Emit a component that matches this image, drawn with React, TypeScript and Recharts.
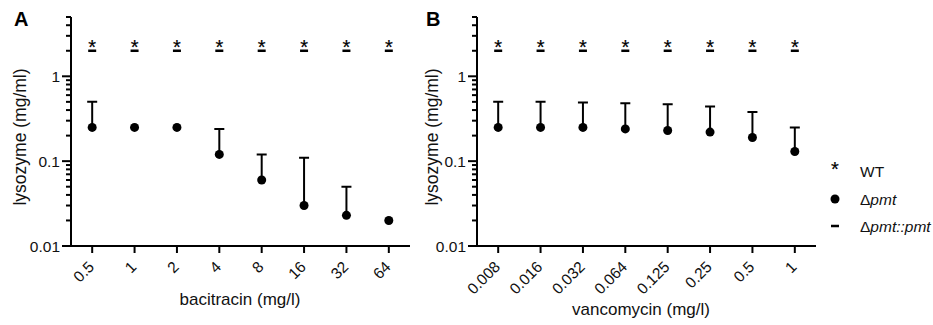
import { ScatterChart, Scatter, XAxis, YAxis, ErrorBar } from 'recharts';

const bacitracinDoses = ['0.5', '1', '2', '4', '8', '16', '32', '64'];
const bacitracinWT = [2, 2, 2, 2, 2, 2, 2, 2];
const bacitracinComp = [2, 2, 2, 2, 2, 2, 2, 2];
const bacitracinPmt = [0.25, 0.25, 0.25, 0.12, 0.06, 0.03, 0.023, 0.02];
const bacitracinPmtUpper = [0.5, null, null, 0.24, 0.12, 0.11, 0.05, null];

const vancomycinDoses = ['0.008', '0.016', '0.032', '0.064', '0.125', '0.25', '0.5', '1'];
const vancomycinWT = [2, 2, 2, 2, 2, 2, 2, 2];
const vancomycinComp = [2, 2, 2, 2, 2, 2, 2, 2];
const vancomycinPmt = [0.25, 0.25, 0.25, 0.24, 0.23, 0.22, 0.19, 0.13];
const vancomycinPmtUpper = [0.5, 0.5, 0.49, 0.48, 0.47, 0.44, 0.38, 0.25];

const yTicks = [
  0.01, 0.02, 0.03, 0.04, 0.05, 0.06, 0.07, 0.08, 0.09,
  0.1, 0.2, 0.3, 0.4, 0.5, 0.6, 0.7, 0.8, 0.9,
  1, 2, 3, 4, 5,
];
const yMajor = [0.01, 0.1, 1];
const xIdx = [0, 1, 2, 3, 4, 5, 6, 7];

const toPoints = (vals: number[]) => vals.map((v, i) => ({ x: i, y: v }));

const Dot = ({ cx, cy }: any) => <circle cx={cx} cy={cy} r={4.5} fill="#000" />;
const Dash = ({ cx, cy }: any) => <rect x={cx - 4} y={cy - 1.25} width={8} height={2.5} fill="#000" />;
const Star = ({ cx, cy }: any) => (
  <text x={cx} y={cy + 3} textAnchor="middle" fontSize={20} fill="#000" stroke="#000" strokeWidth={0.2}>*</text>
);
const Cap = ({ cx, cy }: any) => (
  <line x1={cx - 5} x2={cx + 5} y1={cy} y2={cy} stroke="#000" strokeWidth={2} />
);

const YTick = ({ x, y, payload }: any) => {
  const major = yMajor.includes(payload.value);
  return (
    <g>
      <line x1={x - (major ? 9 : 5)} x2={x} y1={y} y2={y} stroke="#000" strokeWidth={2} />
      {major && (
        <text x={x - 11} y={y} textAnchor="end" dominantBaseline="central" fontSize={15.5} fill="#111">
          {String(payload.value)}
        </text>
      )}
    </g>
  );
};

function Panel({ doses, wt, comp, pmt, upper }: any) {
  const pmtPoints = pmt.map((v: number, i: number) => ({
    x: i,
    y: v,
    err: upper[i] != null ? [0, upper[i] - v] : null,
  }));
  const capPoints = upper
    .map((u: number | null, i: number) => (u == null ? null : { x: i, y: u }))
    .filter(Boolean);

  const XTick = ({ x, y, payload }: any) => {
    const ax = x - 1;
    const ay = y + 7;
    return (
      <text
        x={ax}
        y={ay}
        transform={`rotate(-45, ${ax}, ${ay})`}
        textAnchor="end"
        dominantBaseline="central"
        fontSize={15.5}
        fill="#111"
      >
        {doses[payload.value]}
      </text>
    );
  };

  return (
    <ScatterChart width={420} height={325} margin={{ top: 17, right: 10, bottom: 0, left: 11 }}>
      <XAxis
        type="number"
        dataKey="x"
        domain={[-0.5, 7.5]}
        ticks={xIdx}
        interval={0}
        height={79}
        tickSize={7}
        tickMargin={4}
        axisLine={{ stroke: '#000', strokeWidth: 2 }}
        tickLine={{ stroke: '#000', strokeWidth: 2 }}
        tick={<XTick />}
      />
      <YAxis
        type="number"
        dataKey="y"
        scale="log"
        domain={[0.01, 5]}
        allowDataOverflow
        ticks={yTicks}
        interval={0}
        width={60}
        tickSize={0}
        tickMargin={0}
        tickLine={false}
        axisLine={{ stroke: '#000', strokeWidth: 2 }}
        tick={<YTick />}
      />
      <Scatter data={pmtPoints} shape={<Dot />} isAnimationActive={false}>
        <ErrorBar dataKey="err" direction="y" width={0} stroke="#000" strokeWidth={2} />
      </Scatter>
      <Scatter data={capPoints} shape={<Cap />} isAnimationActive={false} />
      <Scatter data={toPoints(comp)} shape={<Dash />} isAnimationActive={false} />
      <Scatter data={toPoints(wt)} shape={<Star />} isAnimationActive={false} />
    </ScatterChart>
  );
}

export default function App() {
  return (
    <div
      style={{
        position: 'absolute',
        left: 0,
        top: 0,
        width: 933,
        height: 325,
        background: '#fff',
        fontFamily: '"Liberation Sans", Arial, sans-serif',
      }}
    >
      <div style={{ position: 'absolute', left: 0, top: 0 }}>
        <Panel doses={bacitracinDoses} wt={bacitracinWT} comp={bacitracinComp} pmt={bacitracinPmt} upper={bacitracinPmtUpper} />
      </div>
      <div style={{ position: 'absolute', left: 406, top: 0 }}>
        <Panel doses={vancomycinDoses} wt={vancomycinWT} comp={vancomycinComp} pmt={vancomycinPmt} upper={vancomycinPmtUpper} />
      </div>
      <svg width={933} height={325} style={{ position: 'absolute', left: 0, top: 0, pointerEvents: 'none' }}>
        <text x={14} y={26} fontSize={20} fontWeight="bold" fill="#000">A</text>
        <text x={426} y={26} fontSize={20} fontWeight="bold" fill="#000">B</text>
        <text x={20} y={137} transform="rotate(-90, 20, 137)" textAnchor="middle" dominantBaseline="central" fontSize={17.5} fill="#111">
          lysozyme (mg/ml)
        </text>
        <text x={432} y={137} transform="rotate(-90, 432, 137)" textAnchor="middle" dominantBaseline="central" fontSize={17.5} fill="#111">
          lysozyme (mg/ml)
        </text>
        <text x={240} y={305} textAnchor="middle" fontSize={17} fill="#111">bacitracin (mg/l)</text>
        <text x={641} y={315} textAnchor="middle" fontSize={17} fill="#111">vancomycin (mg/l)</text>

        <Star cx={835} cy={173} />
        <text x={860} y={171} dominantBaseline="central" fontSize={15.5} fill="#111">WT</text>
        <Dot cx={835} cy={199} />
        <text x={860} y={199} dominantBaseline="central" fontSize={15.5} fill="#111">
          Δ<tspan fontStyle="italic">pmt</tspan>
        </text>
        <Dash cx={835} cy={226} />
        <text x={860} y={226} dominantBaseline="central" fontSize={15.5} fill="#111">
          Δ<tspan fontStyle="italic">pmt::pmt</tspan>
        </text>
      </svg>
    </div>
  );
}
